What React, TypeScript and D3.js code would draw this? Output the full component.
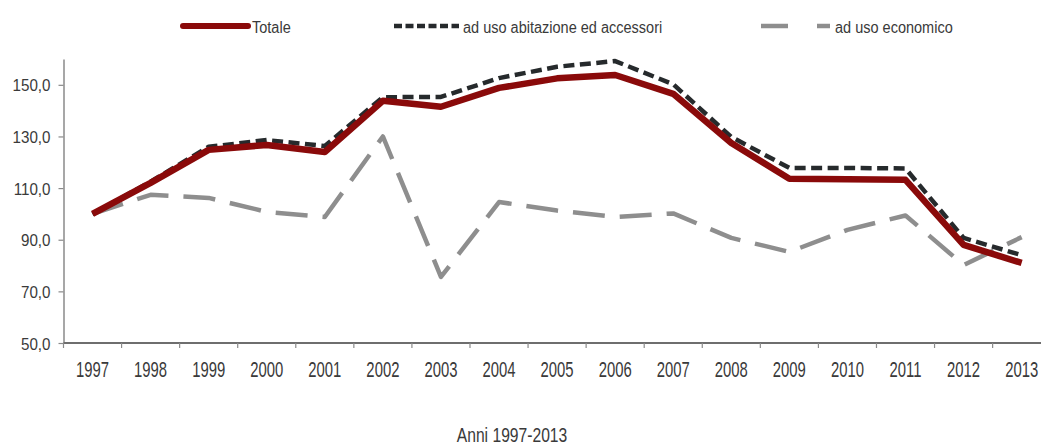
import * as d3 from "d3";
import { useEffect, useRef } from "react";

const years = ["1997", "1998", "1999", "2000", "2001", "2002", "2003", "2004", "2005",
  "2006", "2007", "2008", "2009", "2010", "2011", "2012", "2013"];
const totale = [100, 112, 124.8, 126.7, 124, 143.8, 141.5, 148.8, 152.5, 153.8, 146.5, 127.5,
  113.6, 113.4, 113.2, 88, 81];
const abitazione = [100, 112.5, 126, 128.6, 126.3, 145.2, 145.3, 152.6, 157, 159.2, 150.2, 129.8,
  117.8, 117.8, 117.6, 90.7, 84];
const economico = [100, 107.4, 106.2, 100.8, 98.8, 130, 75.6, 104.6, 101.3, 98.8, 100.2, 90.7,
  85.3, 93.8, 99.4, 80.2, 91];
const yTicks = [50, 70, 90, 110, 130, 150];

const series = [
  { name: "Totale", values: totale, color: "#8a0a0a", width: 6.5, dash: null, legendDash: null },
  { name: "ad uso abitazione ed accessori", values: abitazione, color: "#262a2c", width: 4.5, dash: "11,5.5", legendDash: "8,3.5" },
  { name: "ad uso economico", values: economico, color: "#8e8e8e", width: 4.5, dash: "32,15", legendDash: "27,29" },
];
const legendX = [183, 394, 761];

// no narrow font installed, so squeeze Liberation Sans with a transform
const FONT = "'Liberation Sans', Arial, sans-serif";
const TEXT = "#3a3a3a";

export default function App() {
  const ref = useRef<SVGSVGElement>(null);

  useEffect(() => {
    const svg = d3.select(ref.current);
    svg.selectAll("*").remove();

    const left = 63.5;
    const step = 58.07;
    const bottom = 343;

    const x = d3.scaleBand().domain(years).range([left, left + step * years.length]);
    const y = d3.scaleLinear().domain([50, 160]).range([bottom, 59]);

    // y axis
    const yAxis = svg.append("g").attr("transform", `translate(${left},0)`)
      .call(d3.axisLeft(y).tickValues(yTicks).tickSize(5).tickSizeOuter(0)
        .tickFormat((d) => d3.format(".1f")(d as number).replace(".", ",")));
    yAxis.select(".domain").attr("stroke", "#8a8a8a").attr("stroke-width", 1.5);
    yAxis.selectAll(".tick line").attr("stroke", "#8a8a8a").attr("stroke-width", 1.2);
    yAxis.selectAll(".tick text").attr("x", 0).attr("dy", "0.36em")
      .attr("transform", "translate(-13,0) scale(0.95,1.05)")
      .attr("font-family", FONT).attr("font-size", 16).attr("fill", TEXT);

    // x axis line
    svg.append("line").attr("x1", left).attr("x2", left + step * years.length)
      .attr("y1", bottom).attr("y2", bottom).attr("stroke", "#6e6e6e").attr("stroke-width", 1.8);
    svg.append("g").selectAll("line").data(years).join("line")
      .attr("x1", (d) => x(d)!).attr("x2", (d) => x(d)!)
      .attr("y1", bottom).attr("y2", bottom + 5)
      .attr("stroke", "#8a8a8a").attr("stroke-width", 1.2);
    svg.append("g").selectAll("text").data(years).join("text")
      .attr("transform", (d) => `translate(${x(d)! + x.bandwidth() / 2},377) scale(0.825,1.22)`)
      .attr("text-anchor", "middle")
      .attr("font-family", FONT).attr("font-size", 18).attr("fill", TEXT)
      .text((d) => d);

    // axis title
    svg.append("text").attr("transform", "translate(512,442) scale(0.87,1.16)")
      .attr("text-anchor", "middle").attr("font-family", FONT).attr("font-size", 18)
      .attr("fill", TEXT).text("Anni 1997-2013");

    // lines
    const line = d3.line<number>()
      .x((_, i) => x(years[i])! + x.bandwidth() / 2)
      .y((d) => y(d));

    [series[2], series[1], series[0]].forEach((s) => {
      svg.append("path").datum(s.values)
        .attr("fill", "none").attr("stroke", s.color).attr("stroke-width", s.width)
        .attr("stroke-dasharray", s.dash).attr("stroke-linejoin", "round")
        .attr("d", line);
    });

    // legend
    series.forEach((s, i) => {
      const g = svg.append("g").attr("transform", `translate(${legendX[i]},26)`);
      g.append("line").attr("x1", 0).attr("x2", i === 2 ? 69 : 65).attr("y1", 0).attr("y2", 0)
        .attr("stroke", s.color).attr("stroke-width", i === 0 ? 6 : 4.5)
        .attr("stroke-linecap", i === 0 ? "round" : "butt")
        .attr("stroke-dasharray", s.legendDash);
      g.append("text").attr("transform", `translate(${i === 2 ? 74 : 69},6.5) scale(0.88,1.02)`)
        .attr("font-family", FONT).attr("font-size", 16.5).attr("fill", TEXT)
        .text(s.name);
    });
  }, []);

  return (
    <svg ref={ref} width={1041} height={446}
      style={{ position: "absolute", left: 0, top: 0, background: "#fff" }} />
  );
}
